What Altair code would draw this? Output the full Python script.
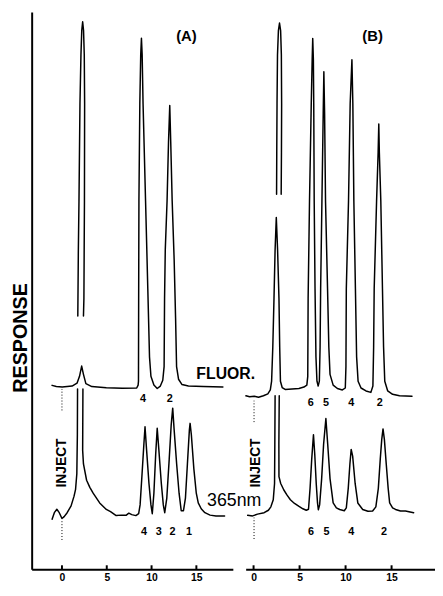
import altair as alt
import pandas as pd

# ---------------- data (time in min, response in arbitrary units) ----------------
# Panel A - fluorescence trace
A_FLUOR_T = [-1.10, -0.63, 0.03, 1.13, 1.68, 1.96, 2.20, 2.40, 2.67, 3.33, 4.95, 6.74, 8.34, 8.50,
             8.54, 8.56, 8.59, 8.69, 8.79, 8.87, 8.95, 9.05, 9.33, 9.58, 9.77, 9.93, 10.26, 10.63, 10.98, 11.25,
             11.40, 11.45, 11.53, 11.73, 11.89, 12.03, 12.14, 12.30, 12.52, 12.68, 12.79, 13.01, 13.40, 14.11, 15.76, 17.96]
A_FLUOR_R = [188.7, 187.5, 187, 188, 191, 198, 208.5, 200, 190.5, 187.5, 186.3, 185.7, 186, 189,
             193, 278, 378, 478, 528, 545, 528, 478, 378, 288, 218, 198, 189, 185.5, 188, 194,
             208, 278, 328, 378, 438, 476, 438, 378, 318, 258, 208, 195, 189.5, 188, 187.5, 187]

# Panel A - 365 nm trace (three pieces: the off-scale solvent peak is interrupted)
A_UV1_T = [-1.10, -0.85, -0.57, -0.30, 0.00, 0.25, 0.58, 1.02, 1.35, 1.52, 1.66, 1.72, 1.74]
A_UV1_R = [51.3, 58, 61.5, 58, 52, 54, 58, 65, 75, 82, 98, 138, 185]
A_UV2_T = [1.77, 1.83, 1.90, 2.01, 2.12, 2.21, 2.31, 2.41, 2.49, 2.53, 2.51, 2.45, 2.40]
A_UV2_R = [260, 328, 378, 478, 528, 553, 562, 553, 528, 478, 378, 278, 260]
A_UV3_T = [2.34, 2.31, 2.40, 2.75, 3.11, 3.48, 4.21, 4.95, 5.42, 6.05, 6.63, 7.15, 7.46, 7.79, 8.25, 8.56, 8.72,
           8.94, 9.14, 9.27, 9.44, 9.71, 9.93, 10.08,
           10.26, 10.46, 10.63, 10.81, 11.09, 11.31, 11.47,
           11.70, 11.97, 12.19, 12.36, 12.52, 12.80, 13.07, 13.31, 13.56,
           13.78, 14.00, 14.22, 14.30, 14.44, 14.72, 14.99, 15.21, 15.54, 15.95, 16.53, 17.19, 18.15]
A_UV3_R = [185, 122, 108, 91.3, 84, 78, 68, 61.3, 59, 55, 55.5, 55.3, 57.5, 56, 55, 57, 66,
           98, 128, 146.3, 123, 88, 66, 57,
           78, 118, 144.7, 123, 88, 66, 58,
           73, 113, 148, 165.3, 143, 108, 78, 60, 60,
           73, 108, 143, 149.7, 138, 103, 78, 68, 62, 58, 55.5, 54.7, 54.7]

# Panel B - fluorescence trace
B_FLUOR_T = [-0.83, -0.43, 0.08, 0.54, 1.07, 1.55, 1.82, 1.96,
             2.09, 2.22, 2.34, 2.47, 2.61, 2.76, 2.84, 2.92, 3.11, 3.43, 4.18, 4.93, 5.47, 5.79, 5.89,
             5.93, 6.08, 6.27, 6.37, 6.43, 6.50, 6.54, 6.59, 6.68, 6.78, 6.89, 7.02, 7.15,
             7.23, 7.29, 7.43, 7.57, 7.64, 7.72, 7.82, 8.04, 8.18, 8.31, 8.65, 9.11, 9.65, 9.97,
             10.04, 10.08, 10.32, 10.50, 10.69, 10.79, 10.90, 11.07, 11.20, 11.36, 11.68, 12.22, 12.75, 12.97,
             13.05, 13.11, 13.37, 13.54, 13.61, 13.67, 13.83, 14.01, 14.13, 14.26, 14.58, 15.11, 15.86, 17.22]
B_FLUOR_R = [178, 177, 177.5, 176.5, 178, 180, 184, 193,
             228, 278, 328, 361, 328, 278, 228, 193, 186.5, 184.5, 185, 185.5, 187, 189, 198,
             278, 378, 478, 523, 544.7, 523, 478, 378, 288, 218, 193, 188, 193,
             228, 288, 378, 468, 510.7, 468, 378, 288, 228, 200, 189, 185.5, 184, 186,
             208, 288, 378, 478, 523, 478, 378, 288, 218, 193, 186, 183, 181.5, 188,
             228, 288, 378, 428, 457, 428, 378, 288, 228, 193, 183, 179.5, 178, 177.5]

# Panel B - 365 nm trace
B_UV1_T = [-0.64, -0.11, 0.43, 1.15, 1.61, 1.88, 2.14, 2.28, 2.31, 2.34]
B_UV1_R = [55.3, 54.7, 56.5, 58, 60.5, 64, 71.3, 88, 128, 178]
B_UV2_T = [2.50, 2.52, 2.55, 2.60, 2.70, 2.82, 2.94, 3.02, 3.05, 3.03, 3.00]
B_UV2_R = [385, 428, 478, 528, 553, 560.7, 553, 528, 478, 428, 385]
B_UV3_T = [2.79, 2.75, 2.76, 2.95, 3.29, 3.64, 4.00, 4.45, 4.90, 5.36, 5.73, 5.97,
           6.14, 6.32, 6.51, 6.65, 6.81, 6.95, 7.04, 7.18,
           7.40, 7.61, 7.86, 8.06, 8.31, 8.65, 9.00, 9.36, 9.86, 10.08,
           10.29, 10.47, 10.61, 10.77, 11.04, 11.33, 11.86, 12.43, 12.94, 13.29,
           13.56, 13.77, 13.93, 14.07, 14.22, 14.42, 14.63, 14.79, 15.11, 15.43, 15.97, 16.51, 17.40]
B_UV3_R = [178, 128, 95, 88, 81.3, 76, 71.3, 67.5, 64.7, 62, 60.5, 61.5,
           83, 113, 138, 118, 88, 68, 61, 66,
           93, 128, 154.7, 128, 93, 68, 63, 61.3, 60, 63,
           83, 108, 123, 116, 88, 68, 61.3, 59.5, 59.7, 64,
           83, 113, 133, 144, 133, 108, 83, 68, 63, 61.3, 59.7, 59.7, 58]

TICK_VALUES = [0, 5, 10, 15]

# peak labels: (text, time, response)
A_PEAK_LABELS = [("4", 9.05, 175), ("2", 12.02, 175),
                 ("4", 9.16, 38), ("3", 10.81, 38), ("2", 12.35, 38), ("1", 14.19, 38)]
B_PEAK_LABELS = [("6", 6.22, 170.5), ("5", 7.88, 170.5), ("4", 10.61, 170.5), ("2", 13.72, 170.5),
                 ("6", 6.25, 38), ("5", 7.93, 38), ("4", 10.61, 38), ("2", 14.18, 38)]

# injection markers (time, from, to)
A_INJECT = [(0.0, 163, 185), (0.0, 30, 51)]
B_INJECT = [(0.05, 151, 173), (0.05, 31, 53)]

# ---------------- helpers ----------------
def trace_df(pieces):
    rows = []
    for name, ts, rs in pieces:
        for i, (t, r) in enumerate(zip(ts, rs)):
            rows.append({"t": t, "r": r, "seg": name, "idx": i})
    return pd.DataFrame(rows)

Y_DOMAIN = [0, 572]
FONT = "Liberation Sans"
H = 565


def panel(domain, traces, peak_labels, inject, title_text, title_t, inject_t, extra_texts, show_y, width):
    xs = alt.Scale(domain=domain, nice=False, zero=False)
    ys = alt.Scale(domain=Y_DOMAIN, nice=False, zero=False)
    x_axis = alt.Axis(values=TICK_VALUES, title=None, grid=False, ticks=False, format="d",
                      labelFontSize=10.5, labelFontWeight="bold", labelFont=FONT, labelColor="black",
                      labelPadding=3, domainColor="black", domainWidth=2)
    if show_y:
        y_axis = alt.Axis(title="RESPONSE", labels=False, ticks=False, grid=False,
                          domainColor="black", domainWidth=2, titleFontSize=20, titleFont=FONT,
                          titleFontWeight="bold", titleColor="black", titlePadding=1, titleY=330)
    else:
        y_axis = None
    X = alt.X("t:Q", scale=xs, axis=x_axis)
    Y = alt.Y("r:Q", scale=ys, axis=y_axis)

    tick_df = pd.DataFrame({"t": TICK_VALUES, "r": [0] * 4, "r2": [4] * 4})
    ticks = alt.Chart(tick_df).mark_rule(color="black", strokeWidth=2).encode(x=X, y=Y, y2="r2:Q")

    inj_df = pd.DataFrame(inject, columns=["t", "r", "r2"])
    inj = alt.Chart(inj_df).mark_rule(color="black", strokeWidth=1, strokeDash=[1, 2]).encode(
        x=X, y=Y, y2="r2:Q")

    lines = alt.Chart(trace_df(traces)).mark_line(
        color="black", strokeWidth=1.5, strokeJoin="round", strokeCap="round").encode(
        x=X, y=Y, detail="seg:N", order="idx:Q")

    pl_df = pd.DataFrame(peak_labels, columns=["label", "t", "r"])
    pls = alt.Chart(pl_df).mark_text(font=FONT, fontSize=11, fontWeight="bold", color="black",
                                     baseline="middle").encode(x=X, y=Y, text="label:N")

    ttl = alt.Chart(pd.DataFrame({"label": [title_text], "t": [title_t], "r": [547]})).mark_text(
        font=FONT, fontSize=15, fontWeight="bold", color="black", baseline="middle").encode(
        x=X, y=Y, text="label:N")

    injt = alt.Chart(pd.DataFrame({"label": ["INJECT"], "t": [inject_t], "r": [109]})).mark_text(
        font=FONT, fontSize=14, fontWeight="bold", color="black", angle=270, baseline="middle").encode(
        x=X, y=Y, text="label:N")

    layers = [ticks, inj, lines, pls, ttl, injt]
    for label, t, r, size, weight in extra_texts:
        layers.append(alt.Chart(pd.DataFrame({"label": [label], "t": [t], "r": [r]})).mark_text(
            font=FONT, fontSize=size, fontWeight=weight, color="black", align="left",
            baseline="middle").encode(x=X, y=Y, text="label:N"))
    return alt.layer(*layers).properties(width=width, height=H)


panel_a = panel(
    [-3.38, 19.07],
    [("F", A_FLUOR_T, A_FLUOR_R), ("U1", A_UV1_T, A_UV1_R),
     ("U2", A_UV2_T, A_UV2_R), ("U3", A_UV3_T, A_UV3_R)],
    A_PEAK_LABELS, A_INJECT, "(A)", 13.89, 0.0,
    [("FLUOR.", 15.0, 200, 16, "bold"), ("365nm", 16.2, 70, 18, "normal")],
    True, 204)

panel_b = panel(
    [-0.86, 19.72],
    [("F", B_FLUOR_T, B_FLUOR_R), ("U1", B_UV1_T, B_UV1_R),
     ("U2", B_UV2_T, B_UV2_R), ("U3", B_UV3_T, B_UV3_R)],
    B_PEAK_LABELS, B_INJECT, "(B)", 12.94, 0.25,
    [], False, 192)

chart = alt.hconcat(panel_a, panel_b, spacing=13, bounds="flush").properties(
    padding={"left": 3, "top": 0, "right": 0, "bottom": 0}
).configure_view(stroke=None)

chart.save("out.html", embed_options={"renderer": "svg", "actions": False})
